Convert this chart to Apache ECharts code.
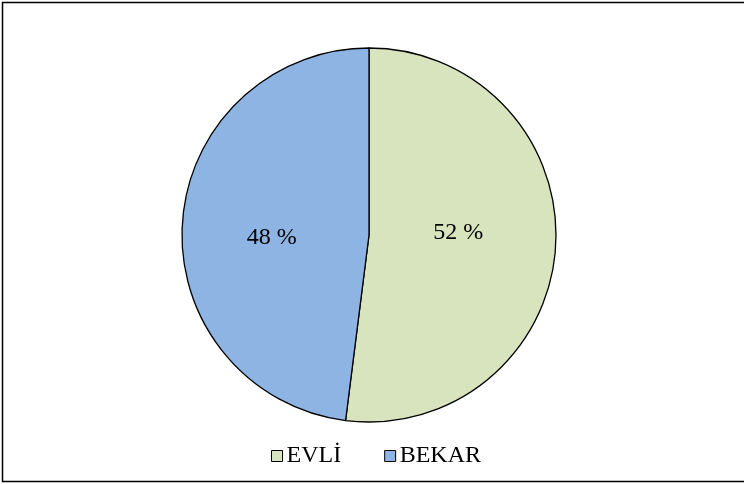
<!DOCTYPE html>
<html><head><meta charset="utf-8">
<script src="https://cdn.jsdelivr.net/npm/echarts@6/dist/echarts.min.js"></script>
<style>html,body{margin:0;padding:0;background:#fff;}#c{width:744px;height:484px;}</style>
</head><body><div id="c"></div>
<script>
const categories = ['EVLİ', 'BEKAR'];
const values = [52, 48];
const colors = ['#D7E4BD', '#8EB4E3'];
const chart = echarts.init(document.getElementById('c'), null, {renderer: 'canvas'});
chart.setOption({
  animation: false,
  backgroundColor: '#fff',
  graphic: [{type: 'rect', shape: {x: 2.5, y: 2.5, width: 760, height: 479}, style: {fill: 'none', stroke: '#000', lineWidth: 1.5}, silent: true}],
  legend: {
    bottom: 11, left: 266, itemWidth: 11, itemHeight: 11, itemGap: 43,
    icon: 'rect',
    itemStyle: {borderColor: '#000', borderWidth: 1},
    textStyle: {fontFamily: 'Liberation Serif', fontSize: 24, color: '#000', padding: [0,0,0,-1]},
    data: categories
  },
  series: [{
    type: 'pie',
    center: [369, 235],
    radius: [0, 187],
    startAngle: 90,
    clockwise: true,
    data: categories.map((n, i) => ({name: n, value: values[i], itemStyle: {color: colors[i]}})),
    itemStyle: {borderColor: '#000', borderWidth: 1.3},
    label: {position: 'inner', formatter: p => p.value + ' %', fontFamily: 'Liberation Serif', fontSize: 24, color: '#000'},
    labelLayout: p => (p.dataIndex === 0 ? {dx: -7, dy: -8} : {dx: -1, dy: 9}),
    labelLine: {show: false},
    emphasis: {disabled: true}
  }]
});
</script></body></html>
